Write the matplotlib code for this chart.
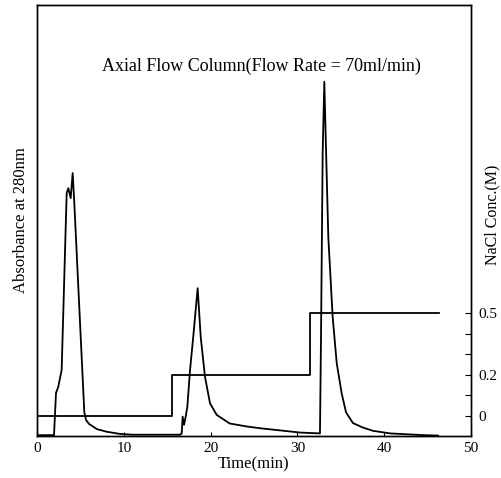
import matplotlib
matplotlib.use("Agg")
import matplotlib.pyplot as plt

plt.rcParams['font.family'] = ['Liberation Serif', 'DejaVu Serif']

# Absorbance trace at 280 nm (arbitrary units)
time_min = [0.0, 1.96, 2.19, 2.45, 2.84, 3.42, 3.61, 3.88, 4.11, 4.28, 5.45, 5.65,
            6.0, 6.9, 8.0, 9.5, 11.0, 16.5,
            16.67, 16.78, 16.94, 17.13, 17.32, 17.63, 18.0, 18.51, 18.86, 19.35,
            19.93, 20.7, 22.2, 24.2, 25.7, 28.0, 30.3, 32.6,
            32.72, 32.91, 33.1, 33.29, 33.56, 34.06, 34.53, 35.1, 35.6, 36.4,
            37.5, 38.7, 40.7, 44.5, 46.2]
absorbance = [0.002, 0.002, 0.100, 0.114, 0.153, 0.564, 0.575, 0.552, 0.610, 0.548,
              0.055, 0.037, 0.028, 0.016, 0.010, 0.005, 0.003, 0.003,
              0.006, 0.045, 0.026, 0.045, 0.068, 0.153, 0.230, 0.343, 0.230, 0.138,
              0.076, 0.049, 0.029, 0.022, 0.018, 0.013, 0.008, 0.006,
              0.230, 0.656, 0.822, 0.671, 0.462, 0.277, 0.169, 0.099, 0.055, 0.030,
              0.020, 0.012, 0.006, 0.002, 0.001]

# NaCl step gradient
step_time = [0.0, 15.6, 31.5, 46.3]
nacl_conc = [0.0, 0.2, 0.5, 0.5]

x_ticks = [0, 10, 20, 30, 40, 50]
nacl_ticks = [0.0, 0.1, 0.2, 0.3, 0.4, 0.5]
nacl_labels = ['0', '', '0.2', '', '', '0.5']

fig = plt.figure(figsize=(5.02, 4.78), dpi=100)
ax = fig.add_axes([37 / 502, 1 - 436 / 478, (471 - 37) / 502, (436 - 5) / 478])

ax.plot(time_min, absorbance, color='black', lw=1.3)
ax.set_xlim(0, 50)
ax.set_ylim(0, 1.0)
ax.set_yticks([])
ax.set_xticks(x_ticks)
ax.tick_params(axis='x', direction='in', length=3, labelsize=11, pad=4)
for s in ax.spines.values():
    s.set_linewidth(1.0)

ax2 = ax.twinx()
ax2.step(step_time, nacl_conc, where='post', color='black', lw=1.3)
ax2.set_ylim(-0.097, 1.995)
ax2.set_yticks(nacl_ticks)
ax2.set_yticklabels(nacl_labels)
ax2.tick_params(axis='y', direction='in', length=4, labelsize=11, pad=5)
for s in ax2.spines.values():
    s.set_linewidth(1.0)

ax.set_xlabel('Time(min)', fontsize=12, labelpad=1)
ax.set_ylabel('Absorbance at 280nm', fontsize=12, labelpad=6)
fig.text(492 / 502, 1 - 215 / 478, 'NaCl Conc.(M)', rotation=90,
         ha='center', va='center', fontsize=11.5)
ax.text(0.518, 0.857, 'Axial Flow Column(Flow Rate = 70ml/min)', transform=ax.transAxes,
        ha='center', va='center', fontsize=13)

fig.savefig('out.png', dpi=100)
